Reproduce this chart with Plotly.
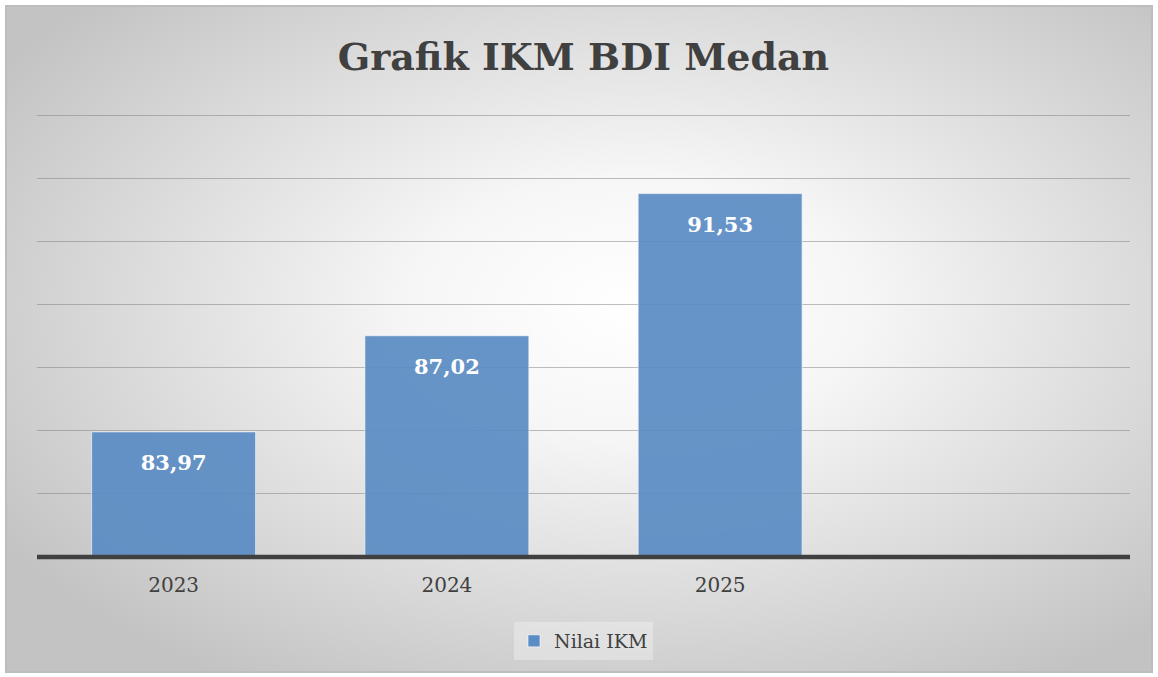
import base64
import plotly.graph_objects as go

# ---- data ----
years = ["2023", "2024", "2025"]
nilai_ikm = [83.97, 87.02, 91.53]
series_name = "Nilai IKM"
chart_title = "Grafik IKM BDI Medan"

W, H = 1158, 677
ML, MR, MT, MB = 37, 28, 100, 120
PW, PH = W - ML - MR, H - MT - MB

FONT = "DejaVu Serif"
TXT = "#404040"

svg = f'''<svg xmlns="http://www.w3.org/2000/svg" width="{W}" height="{H}" viewBox="0 0 {W} {H}">
<defs><radialGradient id="g" cx="0.55" cy="0.45" r="0.66" gradientUnits="objectBoundingBox">
<stop offset="0" stop-color="#ffffff"/>
<stop offset="0.3" stop-color="#f6f6f6"/>
<stop offset="1" stop-color="#c3c3c3"/>
</radialGradient></defs>
<rect x="0" y="0" width="{W}" height="{H}" fill="url(#g)"/>
</svg>'''
bg_uri = "data:image/svg+xml;base64," + base64.b64encode(svg.encode()).decode()

fig = go.Figure()
fig.add_trace(go.Bar(
    x=years, y=nilai_ikm, name=series_name,
    marker=dict(color="#5b8cc4", opacity=0.92,
                line=dict(color="rgba(255,255,255,0.6)", width=1)),
    width=0.6, hoverinfo="skip",
    showlegend=True,
))
fig.add_trace(go.Scatter(
    x=years, y=nilai_ikm, mode="markers+text", showlegend=False,
    marker=dict(size=34, opacity=0), hoverinfo="skip",
    text=[f"{v:.2f}".replace(".", ",") for v in nilai_ikm],
    textposition="bottom center",
    textfont=dict(family=FONT, size=21, color="white", weight="bold"),
))

# frame image spans x 6..1152, y 6..672 in pixels
fx0, fx1, fy0, fy1 = 6, 1152, 6, 672
fig.add_layout_image(dict(
    source=bg_uri, xref="paper", yref="paper",
    x=(fx0 - ML) / PW, y=1 + (MT - fy0) / PH,
    sizex=(fx1 - fx0) / PW, sizey=(fy1 - fy0) / PH,
    sizing="stretch", xanchor="left", yanchor="top", layer="below",
))
fig.add_shape(type="rect", xref="paper", yref="paper",
              x0=(fx0 - ML) / PW, x1=(fx1 - ML) / PW,
              y0=1 + (MT - fy0) / PH, y1=1 - (fy1 - MT) / PH,
              line=dict(color="#bdbdbd", width=2), layer="below")

fig.update_layout(
    width=W, height=H,
    margin=dict(l=ML, r=MR, t=MT, b=MB),
    paper_bgcolor="white", plot_bgcolor="rgba(0,0,0,0)",
    title=dict(text=chart_title, x=0.5, xref="paper", xanchor="center",
               y=1 - 57 / H, yanchor="middle",
               font=dict(family=FONT, size=38, color=TXT, weight="bold")),
    xaxis=dict(type="category", categoryorder="array", categoryarray=years,
               range=[-0.5, 3.5], showgrid=False, zeroline=False,
               showline=False, ticks="", ticklabelstandoff=14,
               tickfont=dict(family=FONT, size=20, color=TXT)),
    yaxis=dict(range=[80, 94.5], dtick=2, showticklabels=False, ticks="",
               showgrid=True, gridcolor="rgba(125,125,125,0.5)", gridwidth=1,
               zeroline=False, showline=False),
    legend=dict(orientation="h", x=0.5, xanchor="center",
                y=-(641 - (MT + PH)) / PH, yanchor="middle",
                bgcolor="rgba(255,255,255,0.3)",
                font=dict(family=FONT, size=19, color=TXT),
                itemwidth=30),
)
# baseline (category axis line at the bottom of the value range)
fig.add_shape(type="line", xref="paper", yref="paper", x0=0, x1=1, y0=0, y1=0,
              line=dict(color="#404040", width=4.5), layer="above")

fig.write_html("out.html", config={"displayModeBar": False},
               post_script="document.body.style.margin='0';")
